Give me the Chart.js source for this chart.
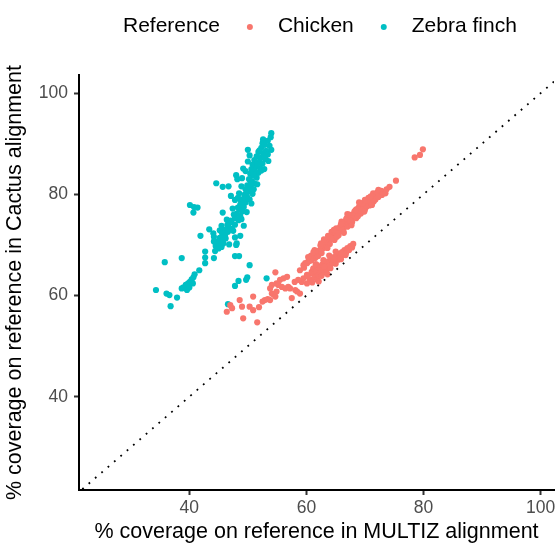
<!DOCTYPE html>
<html>
<head>
<meta charset="utf-8">
<script src="https://cdn.jsdelivr.net/npm/chart.js@4.4.0/dist/chart.umd.min.js"></script>
<style>
  html, body { margin: 0; padding: 0; background: #ffffff; }
  #chart { display: block; }
</style>
</head>
<body>
<canvas id="chart" width="559" height="546"></canvas>
<script>
const seriesNames = ["Chicken", "Zebra finch"];
const seriesColors = ["#F8766D", "#00BFC4"];
const legendTitle = "Reference";
const xTitle = "% coverage on reference in MULTIZ alignment";
const yTitle = "% coverage on reference in Cactus alignment";
const xTicks = [40, 60, 80, 100];
const yTicks = [40, 60, 80, 100];
const diagonal = [0, 120];

// [MULTIZ %, Cactus %]
const chickenPoints = [
  [46.4, 56.8], [47.0, 58.1], [47.3, 57.5], [48.6, 59.1], [49.0, 57.8], [49.2, 55.5],
  [50.3, 57.8], [50.9, 57.1], [50.9, 59.8], [51.6, 54.7], [51.9, 57.7], [52.5, 58.8],
  [52.9, 59.1], [53.4, 59.3], [53.8, 59.1], [54.1, 60.4], [54.4, 60.2], [54.7, 59.8],
  [54.9, 60.8], [54.7, 64.6], [54.9, 62.4], [55.5, 63.1], [56.1, 63.4], [56.7, 63.7],
  [55.8, 61.7], [55.2, 62.1], [54.1, 62.1], [53.8, 61.4], [56.4, 61.4], [56.9, 61.7],
  [57.2, 61.4], [58.0, 62.7], [57.5, 59.5], [58.1, 61.1], [58.4, 60.8], [58.9, 60.4],
  [59.2, 62.7], [59.5, 63.4], [60.1, 64.1], [58.9, 65.0], [59.5, 66.0], [59.8, 66.4],
  [60.3, 66.7], [60.9, 67.0], [61.5, 67.4], [61.8, 66.0], [61.2, 65.4], [60.9, 64.7],
  [61.5, 64.4], [62.1, 64.7], [60.1, 62.4], [58.6, 63.1],
  [64.3, 72.6], [61.4, 69.0], [67.8, 69.8],
  [59.6, 65.5], [60.1, 66.4], [60.6, 66.9], [61.0, 67.6], [61.5, 67.9], [61.9, 68.6],
  [62.3, 69.0], [62.8, 69.3], [63.1, 70.1], [63.5, 70.4], [63.9, 70.9], [64.2, 71.5],
  [64.6, 71.6], [65.0, 72.2], [65.3, 72.8], [65.8, 73.0], [66.1, 73.6], [66.5, 73.9],
  [66.9, 74.4], [67.2, 74.9], [67.6, 75.2], [68.0, 75.6], [68.3, 76.2], [68.7, 76.5],
  [69.1, 76.8], [69.4, 77.4], [69.8, 77.7], [70.2, 78.1], [70.5, 78.5], [70.9, 78.7],
  [71.3, 79.2], [71.7, 79.6], [72.0, 79.9], [72.4, 80.3], [62.0, 67.8], [62.6, 68.4],
  [63.3, 69.5], [64.0, 70.2], [64.8, 71.0], [65.5, 71.9], [66.3, 72.8], [67.0, 73.6],
  [67.8, 74.5], [68.5, 75.3], [69.3, 76.2], [70.0, 77.0], [70.8, 77.8], [71.5, 78.6],
  [60.8, 67.9], [61.6, 68.8], [62.4, 69.9], [63.2, 70.7], [64.0, 71.6], [64.9, 72.5],
  [65.7, 73.5], [66.6, 74.5], [67.4, 75.6], [68.2, 76.6], [69.0, 77.6], [69.8, 78.4],
  [70.6, 79.3], [71.4, 80.2], [68.9, 77.0], [67.9, 76.0], [66.8, 75.1], [65.1, 73.3],
  [63.7, 71.8], [66.2, 74.2], [66.9, 75.3], [67.5, 74.6], [68.1, 75.9], [68.6, 77.1],
  [69.2, 76.4], [69.7, 77.1], [70.3, 77.6], [70.7, 79.0], [71.1, 78.3], [71.8, 79.0],
  [72.1, 80.4], [67.3, 76.0], [68.4, 76.9], [69.6, 78.2], [70.4, 78.9], [71.0, 79.6],
  [66.0, 73.2], [65.4, 72.3], [64.4, 71.2],
  [62.5, 70.3], [63.6, 69.4], [65.2, 71.6], [66.0, 74.6], [67.0, 76.1], [68.8, 75.7],
  [70.0, 78.9], [71.2, 77.9], [69.0, 78.4], [64.7, 73.0], [63.0, 71.1], [61.2, 68.6],
  [60.3, 67.6], [67.7, 73.9], [66.4, 72.4], [69.9, 76.6], [72.8, 80.7], [65.9, 74.1],
  [60.6, 63.2], [60.9, 64.4], [61.2, 65.3], [61.4, 63.6], [61.7, 64.8], [62.0, 63.9],
  [62.2, 65.6], [62.4, 64.5], [62.7, 66.1], [62.9, 65.0], [63.1, 64.6], [63.3, 66.3],
  [63.6, 65.5], [63.8, 66.8], [64.0, 65.9], [64.3, 67.2], [64.5, 66.4], [64.7, 67.6],
  [64.9, 66.8], [65.2, 67.9], [65.4, 67.1], [65.6, 68.3], [65.8, 67.6], [66.1, 68.6],
  [66.3, 68.0], [66.5, 69.0], [66.8, 68.5], [67.0, 69.4], [67.3, 69.0], [67.5, 69.8],
  [67.8, 69.5], [68.0, 70.2], [61.0, 62.6], [61.9, 63.1], [62.6, 63.9], [63.4, 64.7],
  [64.1, 65.4], [65.0, 66.3], [65.9, 67.2], [66.7, 68.0], [63.0, 65.7], [64.6, 67.1],
  [66.0, 68.3], [61.6, 66.2], [62.9, 67.0], [63.9, 67.9], [65.0, 68.7], [62.1, 62.8],
  [60.2, 63.8], [63.6, 64.2],
  [72.3, 80.9], [72.9, 79.9], [73.5, 80.2], [73.7, 81.0], [74.2, 81.5], [75.3, 82.7],
  [72.3, 79.5], [78.5, 87.3], [79.4, 87.8], [79.9, 88.9]
];

const zebraFinchPoints = [
  [54.0, 92.1], [52.6, 90.9], [52.5, 90.1], [50.0, 88.8], [49.2, 85.1], [44.6, 82.2],
  [45.7, 81.5], [46.7, 81.6], [48.0, 83.8], [48.2, 83.0], [49.0, 83.2], [47.1, 79.7],
  [48.5, 80.2], [40.1, 77.9], [40.8, 77.5], [41.4, 77.4], [40.7, 76.4], [45.7, 76.4],
  [47.8, 78.9], [48.7, 79.0], [43.4, 73.1], [41.9, 71.8], [44.1, 72.3], [44.2, 71.6],
  [45.2, 72.9], [45.8, 72.3], [45.5, 71.1], [45.2, 70.6], [45.0, 69.6], [45.5, 69.6],
  [45.8, 70.3], [48.7, 71.8], [48.1, 70.3], [48.0, 70.0], [42.7, 68.7], [42.7, 67.5],
  [42.7, 66.4], [44.2, 67.4], [38.7, 67.4], [35.8, 66.6], [47.8, 67.8], [48.5, 67.8],
  [50.3, 66.0], [41.7, 65.0], [40.9, 64.2], [40.7, 63.6], [40.4, 63.2], [40.1, 62.7],
  [39.8, 62.4], [39.4, 62.1], [39.0, 61.6], [38.7, 61.4], [39.6, 61.1], [40.0, 61.6],
  [40.6, 62.4], [37.9, 59.6], [34.3, 61.1], [36.1, 60.4], [36.6, 60.1], [36.8, 57.9],
  [47.8, 61.9], [48.4, 62.9], [49.7, 63.1], [49.9, 63.6], [53.2, 63.4], [46.6, 58.3],
  [53.9, 91.3], [53.4, 90.6], [52.9, 89.8], [53.7, 89.6], [52.3, 89.2], [53.1, 88.6],
  [54.0, 88.8], [51.8, 88.4], [52.6, 88.1], [53.4, 87.9], [51.5, 87.5], [52.2, 87.2],
  [53.0, 87.0], [51.1, 86.8], [51.8, 86.4], [52.5, 86.1], [50.8, 85.9], [51.4, 85.5],
  [52.1, 85.2], [50.6, 85.0], [51.2, 84.6], [51.8, 84.3], [50.4, 84.1], [50.9, 83.7],
  [51.5, 83.3], [50.2, 83.0], [50.7, 82.6], [51.2, 82.1], [49.9, 81.8], [50.5, 81.4],
  [49.6, 81.0], [50.2, 80.6], [50.8, 80.1], [49.4, 79.9], [49.9, 79.4], [49.1, 78.9],
  [49.6, 78.4], [48.7, 78.0], [49.3, 77.5], [48.5, 77.1], [49.0, 76.6], [48.1, 76.2],
  [48.7, 75.7], [47.8, 75.3], [48.4, 74.9], [47.2, 74.5], [47.8, 74.0], [46.7, 73.6],
  [47.3, 73.2], [46.0, 73.0], [46.6, 72.6], [45.6, 72.3], [46.1, 71.8], [45.2, 71.4],
  [45.7, 70.9], [44.8, 70.7], [45.3, 70.2], [44.5, 69.8], [45.0, 69.3], [44.4, 68.8],
  [52.0, 88.7], [52.8, 87.5], [51.6, 86.0], [52.3, 84.7], [51.0, 84.0], [50.5, 82.2],
  [51.0, 81.0], [49.8, 80.3], [50.3, 79.0], [49.0, 77.9], [48.3, 77.4], [48.9, 75.1],
  [47.6, 76.0], [47.1, 74.8], [46.5, 74.0], [47.5, 72.8], [46.2, 71.3], [53.5, 86.6],
  [50.0, 86.5], [52.6, 90.4],
  [50.3, 87.7], [49.6, 84.6], [52.8, 85.0], [48.9, 81.6], [51.6, 82.0], [48.3, 79.3],
  [50.6, 78.2], [47.4, 77.2], [49.8, 76.5], [46.4, 75.0], [49.3, 73.8], [45.5, 73.8],
  [47.8, 71.5], [44.2, 70.7], [46.8, 70.1]
];

const fontFamily = "'Liberation Sans', Arial, sans-serif";

const inlineLegend = {
  id: "inlineLegend",
  afterDraw(chart, _args, opts) {
    const { ctx } = chart;
    ctx.save();
    ctx.font = `${opts.fontSize}px ${fontFamily}`;
    ctx.textBaseline = "middle";
    ctx.textAlign = "left";
    ctx.fillStyle = "#000000";
    let x = opts.x;
    ctx.fillText(legendTitle, x, opts.y);
    x += ctx.measureText(legendTitle).width;
    seriesNames.forEach((name, i) => {
      const cx = x + opts.keyGap;
      ctx.fillStyle = seriesColors[i];
      ctx.beginPath();
      ctx.arc(cx, opts.y + 1, opts.radius, 0, Math.PI * 2);
      ctx.fill();
      ctx.fillStyle = "#000000";
      ctx.fillText(name, cx + opts.textGap, opts.y);
      x = cx + opts.textGap + ctx.measureText(name).width;
    });
    ctx.restore();
  },
};

const toXY = (pts) => pts.map(([x, y]) => ({ x, y }));

const axisBase = {
  type: "linear",
  border: { display: true, color: "#000000", width: 2 },
  grid: {
    drawOnChartArea: false,
    drawTicks: true,
    tickLength: 5,
    tickWidth: 2,
    tickColor: "#333333",
  },
};

new Chart(document.getElementById("chart").getContext("2d"), {
  type: "scatter",
  data: {
    datasets: [
      {
        label: "y = x",
        type: "line",
        data: diagonal.map((v) => ({ x: v, y: v })),
        borderColor: "#000000",
        borderWidth: 1.8,
        borderDash: [1.8, 6.6],
        pointRadius: 0,
        fill: false,
      },
      {
        label: seriesNames[0],
        data: toXY(chickenPoints),
        backgroundColor: seriesColors[0],
        pointRadius: 3.1,
        borderWidth: 0,
      },
      {
        label: seriesNames[1],
        data: toXY(zebraFinchPoints),
        backgroundColor: seriesColors[1],
        pointRadius: 3.1,
        borderWidth: 0,
      },
    ],
  },
  options: {
    responsive: false,
    animation: false,
    devicePixelRatio: 1,
    layout: { padding: { top: 75, right: 5, bottom: 0, left: 0 } },
    plugins: {
      legend: { display: false },
      tooltip: { enabled: false },
      inlineLegend: { x: 123, y: 26, fontSize: 21, keyGap: 30, textGap: 28, radius: 3 },
    },
    scales: {
      x: {
        ...axisBase,
        min: 21.15,
        max: 102.3,
        afterBuildTicks: (scale) => { scale.ticks = xTicks.map((value) => ({ value })); },
        afterFit: (scale) => { scale.height = 56; },
        ticks: { color: "#4D4D4D", font: { size: 17.5, family: fontFamily }, padding: 3, maxRotation: 0 },
        title: {
          display: true,
          text: xTitle,
          color: "#000000",
          font: { size: 21.5, family: fontFamily },
          padding: { top: 0, bottom: 1 },
        },
      },
      y: {
        ...axisBase,
        min: 21.56,
        max: 103.6,
        afterBuildTicks: (scale) => { scale.ticks = yTicks.map((value) => ({ value })); },
        afterFit: (scale) => { scale.width = 79; },
        ticks: { color: "#4D4D4D", font: { size: 17.5, family: fontFamily }, padding: 6 },
        title: {
          display: true,
          text: yTitle,
          color: "#000000",
          font: { size: 21.5, family: fontFamily },
          padding: { top: 2, bottom: 0 },
        },
      },
    },
  },
  plugins: [inlineLegend],
});
</script>
</body>
</html>
